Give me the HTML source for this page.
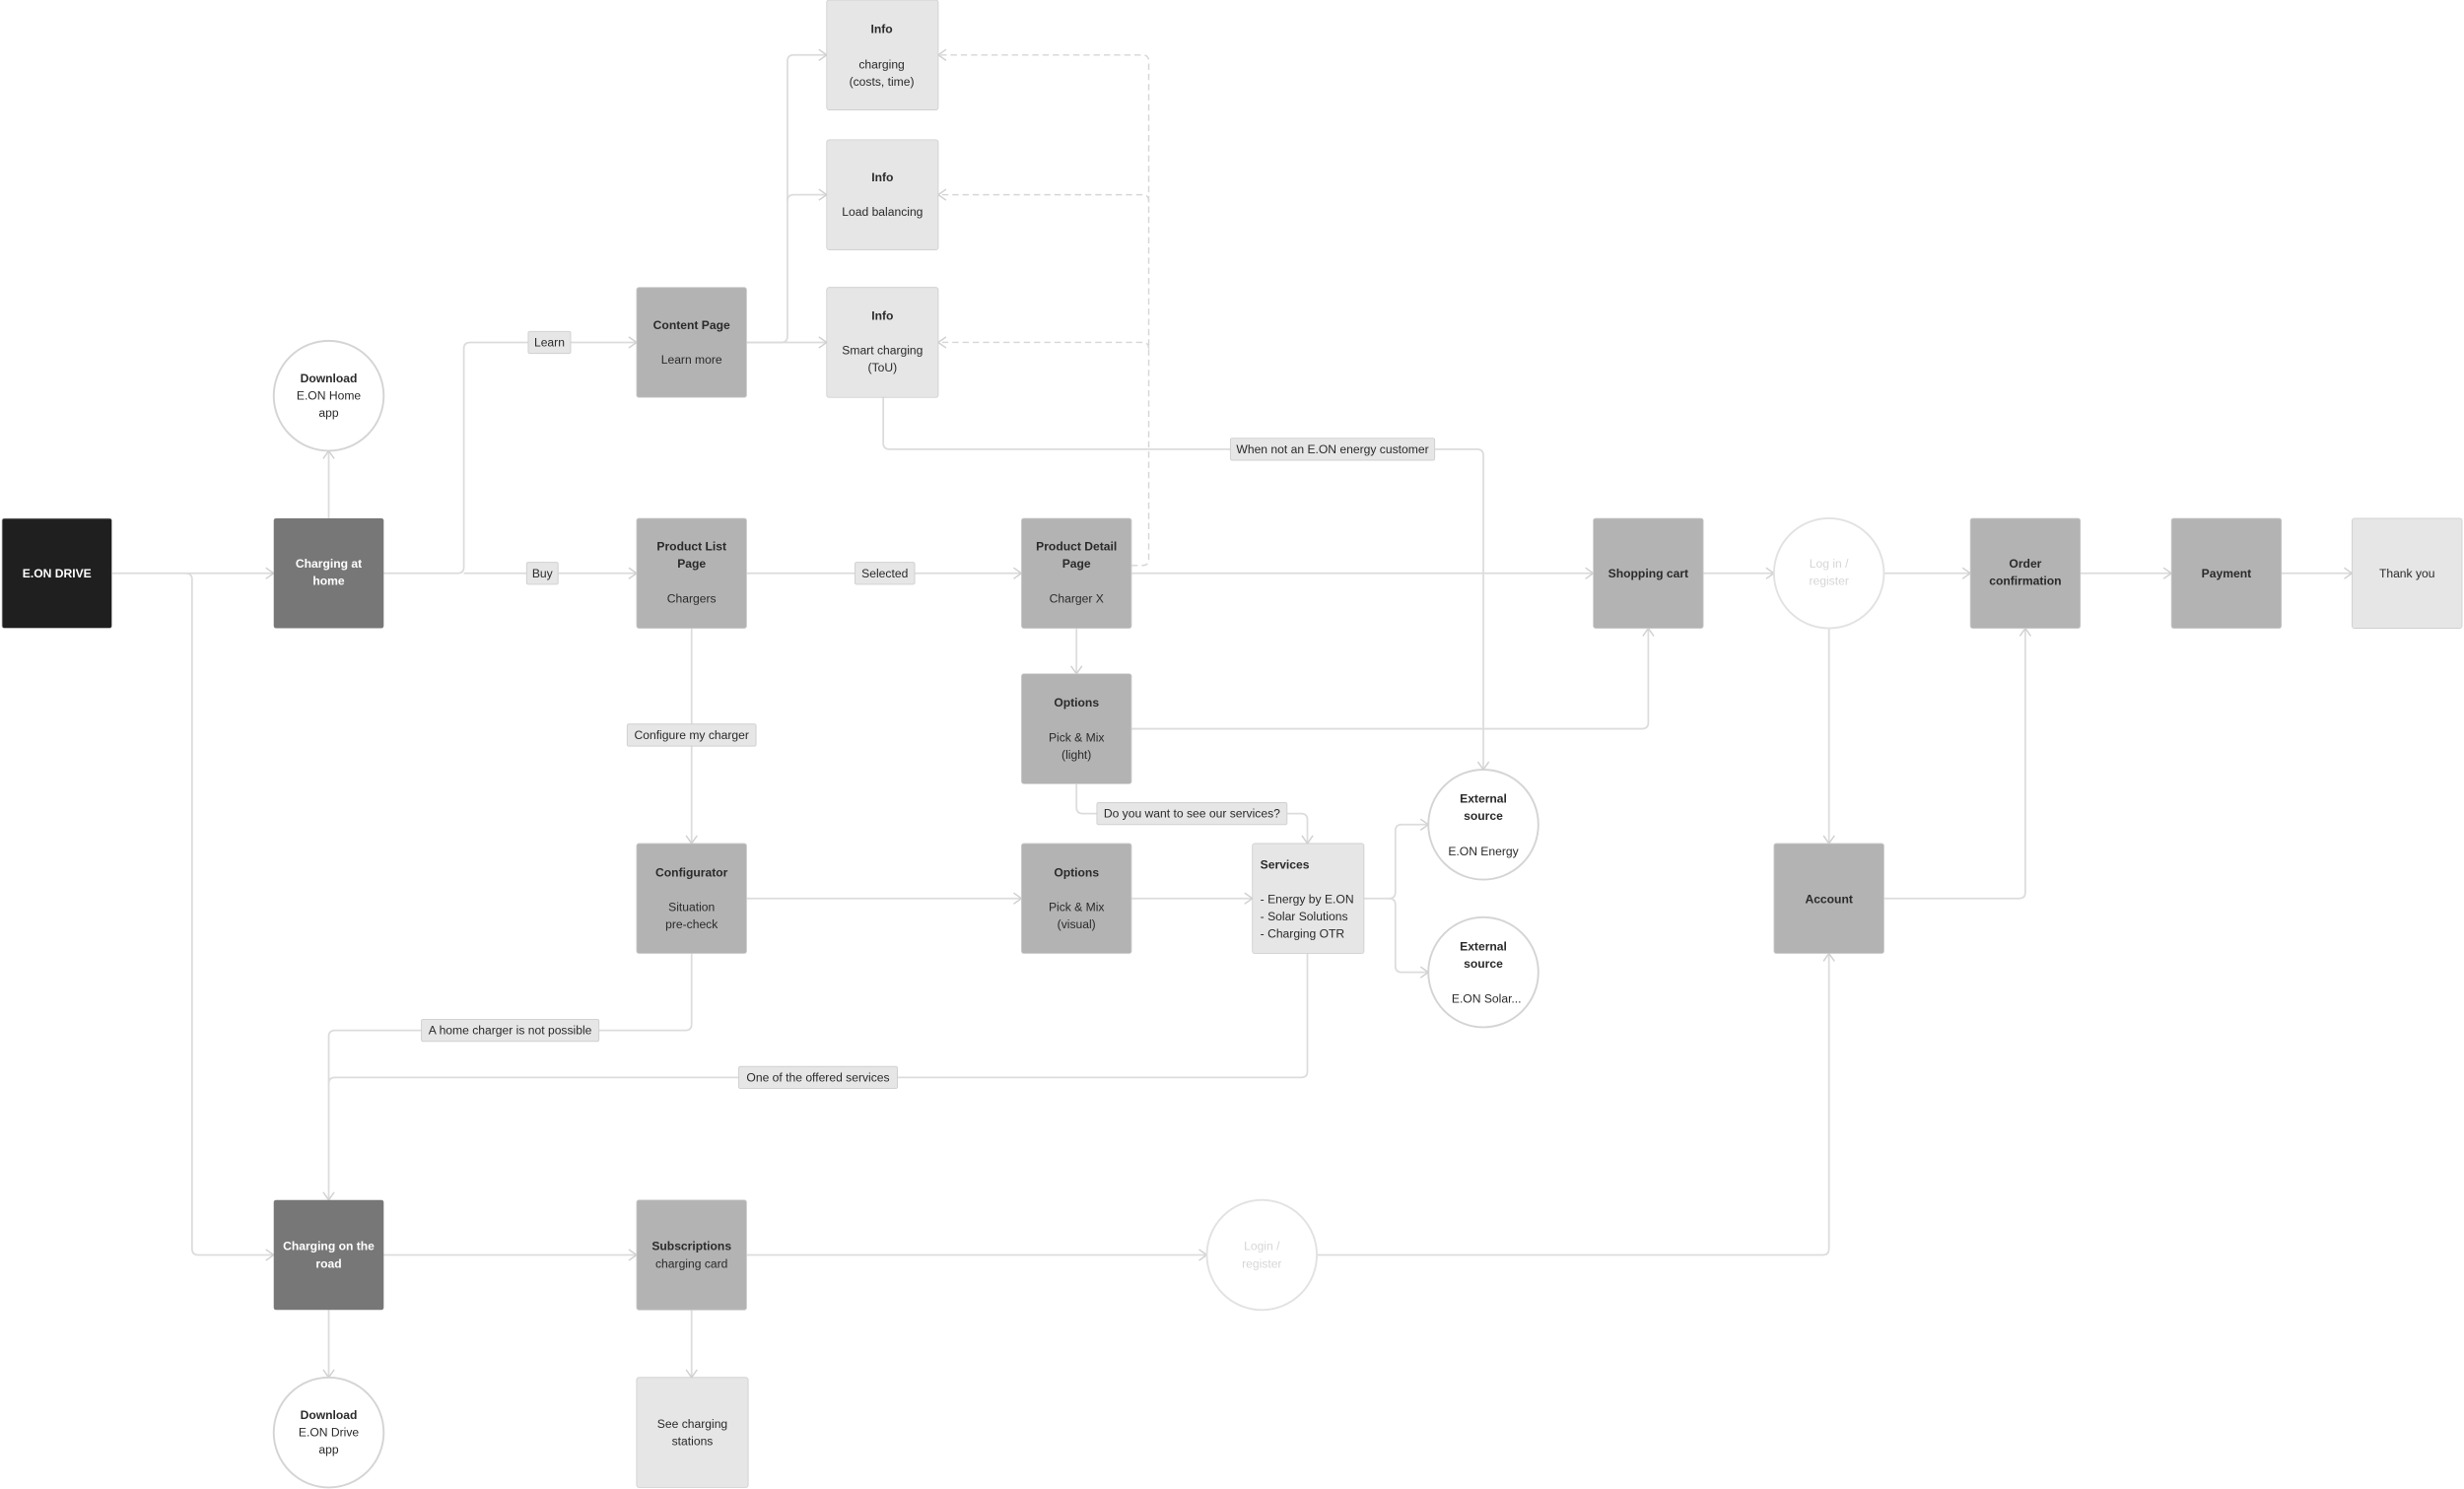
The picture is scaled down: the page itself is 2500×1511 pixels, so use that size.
<!DOCTYPE html>
<html><head><meta charset="utf-8"><style>
html,body{margin:0;padding:0;background:#fff;}
svg{display:block;}
text{font-family:"Liberation Sans",sans-serif;font-size:7.6px;fill:#2a2a2a;text-anchor:middle;}
.b{font-weight:bold;}
.w{fill:#fff;}
.f{fill:#d6d6d6;}
.ln{fill:none;stroke:#dcdcdc;stroke-width:1.1;}
.dl{fill:none;stroke:#d6d6d6;stroke-width:0.9;stroke-dasharray:4,2.5;}
.lab{fill:#e6e6e6;stroke:#d0d0d0;stroke-width:0.6;}
</style></head><body>
<svg width="2500" height="1511" viewBox="0 0 1568 948" xmlns="http://www.w3.org/2000/svg">
<defs>
<marker id="a" markerWidth="8" markerHeight="8" refX="6" refY="4" orient="auto" markerUnits="userSpaceOnUse">
<path d="M1,0.5 L6,4 L1,7.5" fill="none" stroke="#d0d0d0" stroke-width="0.9"/>
</marker>
</defs>

<!-- connectors -->
<g class="ln">
<path d="M71,365 H174" marker-end="url(#a)"/>
<path d="M118,365 Q122,365 122,369 V795 Q122,799 126,799 H174" marker-end="url(#a)"/>
<path d="M209,330 V287" marker-end="url(#a)"/>
<path d="M244,365 H291 Q295,365 295,361 V222 Q295,218 299,218 H405" marker-end="url(#a)"/>
<path d="M295,365 H405" marker-end="url(#a)"/>
<path d="M475,218 H526" marker-end="url(#a)"/>
<path d="M475,218 H497 Q501,218 501,214 V39 Q501,35 505,35 H526" marker-end="url(#a)"/>
<path d="M501,128 Q501,124 505,124 H526" marker-end="url(#a)"/>
<path d="M475,365 H650" marker-end="url(#a)"/>
<path d="M720,365 H1014" marker-end="url(#a)"/>
<path d="M562,253 V282 Q562,286 566,286 H940 Q944,286 944,290 V490" marker-end="url(#a)"/>
<path d="M685,400 V429" marker-end="url(#a)"/>
<path d="M720,464 H1045 Q1049,464 1049,460 V400" marker-end="url(#a)"/>
<path d="M685,499 V514 Q685,518 689,518 H828 Q832,518 832,522 V537" marker-end="url(#a)"/>
<path d="M440,400 V537" marker-end="url(#a)"/>
<path d="M475,572 H650" marker-end="url(#a)"/>
<path d="M720,572 H797" marker-end="url(#a)"/>
<path d="M868,572 H884 Q888,572 888,568 V529 Q888,525 892,525 H909" marker-end="url(#a)"/>
<path d="M884,572 Q888,572 888,576 V615 Q888,619 892,619 H909" marker-end="url(#a)"/>
<path d="M440,607 V652 Q440,656 436,656 H213 Q209,656 209,660 V764" marker-end="url(#a)"/>
<path d="M832,607 V682 Q832,686 828,686 H213 Q209,686 209,690"/>
<path d="M244,799 H405" marker-end="url(#a)"/>
<path d="M475,799 H768" marker-end="url(#a)"/>
<path d="M838,799 H1160 Q1164,799 1164,795 V607" marker-end="url(#a)"/>
<path d="M209,834 V877" marker-end="url(#a)"/>
<path d="M440,834 V877" marker-end="url(#a)"/>
<path d="M1084,365 H1129" marker-end="url(#a)"/>
<path d="M1199,365 H1254" marker-end="url(#a)"/>
<path d="M1324,365 H1382" marker-end="url(#a)"/>
<path d="M1452,365 H1497" marker-end="url(#a)"/>
<path d="M1164,400 V537" marker-end="url(#a)"/>
<path d="M1199,572 H1285 Q1289,572 1289,568 V400" marker-end="url(#a)"/>
</g>
<g class="dl">
<path d="M720,360 H727 Q731,360 731,356 V39 Q731,35 727,35 H597" marker-end="url(#a)"/>
<path d="M731,128 Q731,124 727,124 H597" marker-end="url(#a)"/>
<path d="M731,222 Q731,218 727,218 H597" marker-end="url(#a)"/>
</g>

<!-- labels on connectors -->
<rect class="lab" x="336" y="211" width="27" height="14" rx="1"/><text x="349.5" y="220.5">Learn</text>
<rect class="lab" x="335" y="358" width="20" height="14" rx="1"/><text x="345" y="367.5">Buy</text>
<rect class="lab" x="544" y="358" width="38" height="14" rx="1"/><text x="563" y="367.5">Selected</text>
<rect class="lab" x="783" y="279" width="130" height="14" rx="1"/><text x="848" y="288.5">When not an E.ON energy customer</text>
<rect class="lab" x="399" y="461" width="82" height="14" rx="1"/><text x="440" y="470.5">Configure my charger</text>
<rect class="lab" x="698" y="511" width="121" height="14" rx="1"/><text x="758.5" y="520.5">Do you want to see our services?</text>
<rect class="lab" x="268" y="649" width="113" height="14" rx="1"/><text x="324.5" y="658.5">A home charger is not possible</text>
<rect class="lab" x="470" y="679" width="101" height="14" rx="1"/><text x="520.5" y="688.5">One of the offered services</text>

<!-- nodes -->
<rect x="1" y="330" width="70" height="70" rx="1.5" fill="#1f1f1f" stroke="#d0d0d0" stroke-width="0.5"/>
<text class="b w" x="36" y="367.5">E.ON DRIVE</text>

<rect x="174" y="330" width="70" height="70" rx="1.5" fill="#777"/>
<text class="b w" x="209" y="361.5">Charging at</text><text class="b w" x="209" y="372.5">home</text>

<circle cx="209" cy="252" r="35" fill="#fff" stroke="#d4d4d4" stroke-width="1.2"/>
<text class="b" x="209" y="243.5">Download</text><text x="209" y="254.5">E.ON Home</text><text x="209" y="265.5">app</text>

<rect x="405" y="183" width="70" height="70" rx="1.5" fill="#b3b3b3" stroke="#ccc" stroke-width="0.5"/>
<text class="b" x="440" y="209.5">Content Page</text><text x="440" y="231.5">Learn more</text>

<rect x="526" y="0" width="71" height="70" rx="1.5" fill="#e6e6e6" stroke="#ccc" stroke-width="0.5"/>
<text class="b" x="561" y="21">Info</text><text x="561" y="43.5">charging</text><text x="561" y="54.5">(costs, time)</text>

<rect x="526" y="89" width="71" height="70" rx="1.5" fill="#e6e6e6" stroke="#ccc" stroke-width="0.5"/>
<text class="b" x="561.5" y="115.5">Info</text><text x="561.5" y="137.5">Load balancing</text>

<rect x="526" y="183" width="71" height="70" rx="1.5" fill="#e6e6e6" stroke="#ccc" stroke-width="0.5"/>
<text class="b" x="561.5" y="203.5">Info</text><text x="561.5" y="225.5">Smart charging</text><text x="561.5" y="236.5">(ToU)</text>

<rect x="405" y="330" width="70" height="70" rx="1.5" fill="#b3b3b3" stroke="#ccc" stroke-width="0.5"/>
<text class="b" x="440" y="350.5">Product List</text><text class="b" x="440" y="361.5">Page</text><text x="440" y="383.5">Chargers</text>

<rect x="650" y="330" width="70" height="70" rx="1.5" fill="#b3b3b3" stroke="#ccc" stroke-width="0.5"/>
<text class="b" x="685" y="350.5">Product Detail</text><text class="b" x="685" y="361.5">Page</text><text x="685" y="383.5">Charger X</text>

<rect x="650" y="429" width="70" height="70" rx="1.5" fill="#b3b3b3" stroke="#ccc" stroke-width="0.5"/>
<text class="b" x="685" y="450">Options</text><text x="685" y="472">Pick &amp; Mix</text><text x="685" y="483">(light)</text>

<rect x="405" y="537" width="70" height="70" rx="1.5" fill="#b3b3b3" stroke="#ccc" stroke-width="0.5"/>
<text class="b" x="440" y="558">Configurator</text><text x="440" y="580">Situation</text><text x="440" y="591">pre-check</text>

<rect x="650" y="537" width="70" height="70" rx="1.5" fill="#b3b3b3" stroke="#ccc" stroke-width="0.5"/>
<text class="b" x="685" y="558">Options</text><text x="685" y="580">Pick &amp; Mix</text><text x="685" y="591">(visual)</text>

<rect x="797" y="537" width="71" height="70" rx="1.5" fill="#e6e6e6" stroke="#ccc" stroke-width="0.5"/>
<text class="b" x="802" y="553" style="text-anchor:start">Services</text>
<text x="802" y="575" style="text-anchor:start">- Energy by E.ON</text>
<text x="802" y="586" style="text-anchor:start">- Solar Solutions</text>
<text x="802" y="597" style="text-anchor:start">- Charging OTR</text>

<circle cx="944" cy="525" r="35" fill="#fff" stroke="#d4d4d4" stroke-width="1.2"/>
<text class="b" x="944" y="511">External</text><text class="b" x="944" y="522">source</text><text x="944" y="544.5">E.ON Energy</text>

<circle cx="944" cy="619" r="35" fill="#fff" stroke="#d4d4d4" stroke-width="1.2"/>
<text class="b" x="944" y="605">External</text><text class="b" x="944" y="616">source</text><text x="946" y="638.5">E.ON Solar...</text>

<rect x="1014" y="330" width="70" height="70" rx="1.5" fill="#b3b3b3" stroke="#ccc" stroke-width="0.5"/>
<text class="b" x="1049" y="367.5">Shopping cart</text>

<circle cx="1164" cy="365" r="35" fill="#fff" stroke="#e2e2e2" stroke-width="1.2"/>
<text class="f" x="1164" y="361.5">Log in /</text><text class="f" x="1164" y="372.5">register</text>

<rect x="1254" y="330" width="70" height="70" rx="1.5" fill="#b3b3b3" stroke="#ccc" stroke-width="0.5"/>
<text class="b" x="1289" y="361.5">Order</text><text class="b" x="1289" y="372.5">confirmation</text>

<rect x="1382" y="330" width="70" height="70" rx="1.5" fill="#b3b3b3" stroke="#ccc" stroke-width="0.5"/>
<text class="b" x="1417" y="367.5">Payment</text>

<rect x="1497" y="330" width="70" height="70" rx="1.5" fill="#e6e6e6" stroke="#ccc" stroke-width="0.5"/>
<text x="1532" y="367.5">Thank you</text>

<rect x="1129" y="537" width="70" height="70" rx="1.5" fill="#b3b3b3" stroke="#ccc" stroke-width="0.5"/>
<text class="b" x="1164" y="575">Account</text>

<rect x="174" y="764" width="70" height="70" rx="1.5" fill="#777"/>
<text class="b w" x="209" y="796">Charging on the</text><text class="b w" x="209" y="807">road</text>

<rect x="405" y="764" width="70" height="70" rx="1.5" fill="#b3b3b3" stroke="#ccc" stroke-width="0.5"/>
<text class="b" x="440" y="796">Subscriptions</text><text x="440" y="807">charging card</text>

<circle cx="803" cy="799" r="35" fill="#fff" stroke="#e2e2e2" stroke-width="1.2"/>
<text class="f" x="803" y="796">Login /</text><text class="f" x="803" y="807">register</text>

<circle cx="209" cy="912" r="35" fill="#fff" stroke="#d4d4d4" stroke-width="1.2"/>
<text class="b" x="209" y="903.5">Download</text><text x="209" y="914.5">E.ON Drive</text><text x="209" y="925.5">app</text>

<rect x="405" y="877" width="71" height="70" rx="1.5" fill="#e6e6e6" stroke="#ccc" stroke-width="0.5"/>
<text x="440.5" y="909">See charging</text><text x="440.5" y="920">stations</text>
</svg>
</body></html>
